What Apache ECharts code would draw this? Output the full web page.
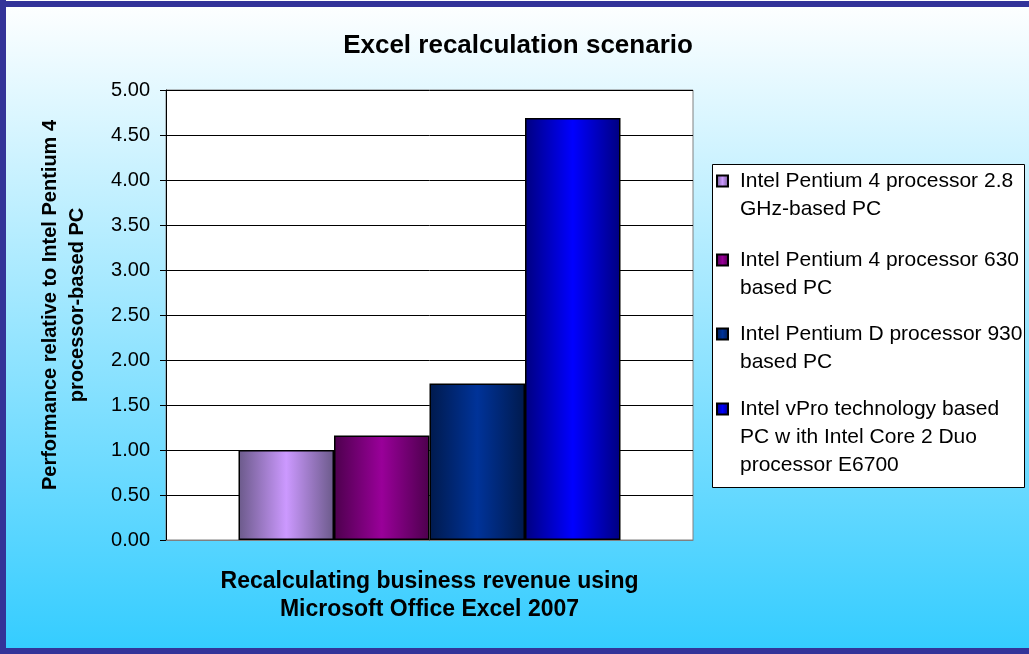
<!DOCTYPE html>
<html>
<head>
<meta charset="utf-8">
<script src="https://cdn.jsdelivr.net/npm/echarts@6/dist/echarts.min.js"></script>
<style>
html, body { margin: 0; padding: 0; }
#chart { width: 1029px; height: 654px; }
</style>
</head>
<body>
<div id="chart"></div>
<script>
// data
var categories = [''];
var seriesNames = [
    'Intel Pentium 4 processor 2.8 GHz-based PC',
    'Intel Pentium 4 processor 630 based PC',
    'Intel Pentium D processor 930 based PC',
    'Intel vPro technology based PC w ith Intel Core 2 Duo processor E6700'
];
var legendLines = [
    ['Intel Pentium 4 processor 2.8', 'GHz-based PC'],
    ['Intel Pentium 4 processor 630', 'based PC'],
    ['Intel Pentium D processor 930', 'based PC'],
    ['Intel vPro technology based', 'PC w ith Intel Core 2 Duo', 'processor E6700']
];
var values = [1.00, 1.16, 1.74, 4.69];
var barColors = [
    ['#6b5a8a', '#cc99ff'],
    ['#4d004d', '#990099'],
    ['#001a4d', '#003399'],
    ['#000080', '#0000ff']
];
var legendTops = [166, 245, 319, 394];

var font = 'Liberation Sans, Arial, sans-serif';

function shade(edge, mid) {
    return new echarts.graphic.LinearGradient(0, 0, 1, 0, [
        { offset: 0, color: edge },
        { offset: 0.5, color: mid },
        { offset: 1, color: edge }
    ]);
}

var chart = echarts.init(document.getElementById('chart'));

var series = seriesNames.map(function (name, i) {
    return {
        name: name,
        type: 'bar',
        barWidth: 95.5,
        barGap: '0%',
        data: [values[i]],
        itemStyle: {
            color: shade(barColors[i][0], barColors[i][1]),
            borderColor: '#000',
            borderWidth: 1.5
        }
    };
});

// one legend per entry so the marker sits on the first text line
var legends = seriesNames.map(function (name, i) {
    var h = legendLines[i].length * 28;
    return {
        data: [{ name: name, icon: 'path://M0 0 M0 8.5 L11 8.5 L11 19.5 L0 19.5 Z M0 ' + h }],
        orient: 'vertical',
        left: 716,
        top: legendTops[i],
        padding: 0,
        itemWidth: 11,
        itemHeight: h,
        selectedMode: false,
        formatter: function () { return legendLines[i].join('\n'); },
        textStyle: { fontSize: 21, lineHeight: 28, color: '#000', fontFamily: font, padding: [0, 0, 0, 7] }
    };
});

var option = {
    backgroundColor: new echarts.graphic.LinearGradient(0, 0, 0, 1, [
        { offset: 0, color: '#ffffff' },
        { offset: 1, color: '#33ccff' }
    ]),
    animation: false,
    title: {
        text: 'Excel recalculation scenario',
        left: 513,
        top: 28,
        textAlign: 'center',
        textStyle: { fontSize: 26, fontWeight: 'bold', color: '#000', fontFamily: font }
    },
    graphic: [
        { type: 'rect', shape: { x: 0, y: 1, width: 1029, height: 6 }, style: { fill: '#333399' } },
        { type: 'rect', shape: { x: 0, y: 0, width: 6, height: 654 }, style: { fill: '#333399' } },
        { type: 'rect', shape: { x: 0, y: 648, width: 1029, height: 6 }, style: { fill: '#333399' } },
        { type: 'rect', shape: { x: 712.5, y: 164.5, width: 312, height: 323 }, style: { fill: '#fff', stroke: '#000', lineWidth: 1 } }
    ],
    legend: legends,
    grid: {
        left: 166,
        top: 90,
        width: 527,
        height: 450,
        show: true,
        backgroundColor: '#fff',
        borderColor: '#808080',
        borderWidth: 1
    },
    xAxis: {
        type: 'category',
        data: categories,
        axisTick: { show: false },
        axisLabel: { show: false },
        axisLine: { lineStyle: { color: '#808080' } },
        name: 'Recalculating business revenue using\nMicrosoft Office Excel 2007',
        nameLocation: 'middle',
        nameGap: 28,
        nameTextStyle: { fontSize: 23, fontWeight: 'bold', lineHeight: 28, color: '#000', fontFamily: font, verticalAlign: 'top' }
    },
    yAxis: {
        type: 'value',
        min: 0,
        max: 5,
        interval: 0.5,
        axisLine: { show: true, lineStyle: { color: '#000' } },
        axisTick: { show: true, length: 6, lineStyle: { color: '#000' } },
        axisLabel: {
            margin: 16,
            fontSize: 20,
            color: '#000',
            fontFamily: font,
            formatter: function (v) { return v.toFixed(2); }
        },
        splitLine: { lineStyle: { color: '#000', width: 1 } },
        name: 'Performance relative to Intel Pentium 4\nprocessor-based PC',
        nameLocation: 'middle',
        nameGap: 75,
        nameTextStyle: { fontSize: 20, fontWeight: 'bold', lineHeight: 27, color: '#000', fontFamily: font, padding: [0, 0, 0, 20] }
    },
    series: series
};

chart.setOption(option);
</script>
</body>
</html>
